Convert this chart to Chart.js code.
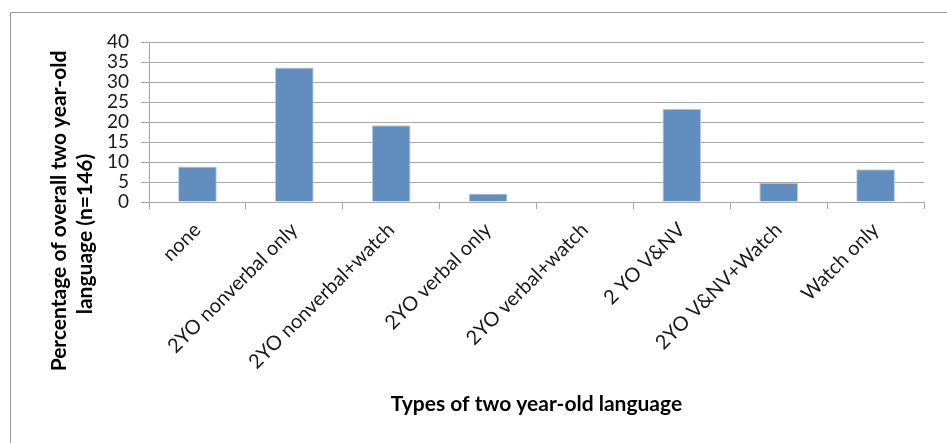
<!DOCTYPE html>
<html>
<head>
<meta charset="utf-8">
<script src="https://cdn.jsdelivr.net/npm/chart.js@4"></script>
<style>
  body { margin: 0; background: #fff; }
  #wrap { width: 947px; height: 443px; position: relative; }
</style>
</head>
<body>
<div id="wrap"><canvas id="langChart"></canvas></div>
<script>
// data (percent of n=146)
var categories = ["none", "2YO nonverbal only", "2YO nonverbal+watch", "2YO verbal only",
    "2YO verbal+watch", "2 YO V&NV", "2YO V&NV+Watch", "Watch only"];
var percentages = [8.9, 33.6, 19.2, 2.1, 0, 23.3, 4.8, 8.2];
var yTicks = [0, 5, 10, 15, 20, 25, 30, 35, 40];
var yTitleLines = ["Percentage of overall two year-old", "language (n=146)"];
var xTitle = "Types of two year-old language";

var gridGray = "#a6a6a6";
var font = "Lato";

// frame lines + two-line y title placed like the original
var decorations = {
    id: "decorations",
    afterDraw: function (chart) {
        var c = chart.ctx;
        c.save();
        c.strokeStyle = "#9a9a9a";
        c.lineWidth = 1;
        c.beginPath();
        c.moveTo(10.5, 443);
        c.lineTo(10.5, 12.5);
        c.lineTo(947, 12.5);
        c.stroke();
        c.restore();

        var spots = [[59, 211], [85, 234]];
        yTitleLines.forEach(function (line, i) {
            c.save();
            c.fillStyle = "#000";
            c.font = "bold 21px " + font;
            c.textAlign = "center";
            c.textBaseline = "middle";
            c.translate(spots[i][0], spots[i][1]);
            c.rotate(-Math.PI / 2);
            c.fillText(line, 0, 0);
            c.restore();
        });
    }
};

var ctx = document.getElementById("langChart").getContext("2d");
var langChart = new Chart(ctx, {
    type: "bar",
    data: {
        labels: categories,
        datasets: [{
            data: percentages,
            backgroundColor: "#5f8ebf",
            borderColor: "#b8cde6",
            borderWidth: 1,
            categoryPercentage: 1,
            barPercentage: 0.4
        }]
    },
    options: {
        responsive: true,
        maintainAspectRatio: false,
        animation: false,
        layout: { padding: { left: 100, right: 23, top: 42, bottom: 22 } },
        plugins: {
            legend: { display: false },
            tooltip: { enabled: false }
        },
        scales: {
            x: {
                grid: {
                    offset: true,
                    drawOnChartArea: false,
                    drawTicks: true,
                    tickLength: 7,
                    color: gridGray
                },
                border: { color: gridGray },
                ticks: {
                    autoSkip: false,
                    minRotation: 45,
                    maxRotation: 45,
                    padding: 9,
                    color: "#1a1a1a",
                    font: { family: font, size: 20 }
                },
                title: {
                    display: true,
                    text: xTitle,
                    color: "#000",
                    font: { family: font, size: 21, weight: "bold" },
                    padding: { top: 0, bottom: 4 }
                },
                afterFit: function (scale) { scale.height = 443 - 22 - 202; }
            },
            y: {
                min: 0,
                max: 40,
                afterBuildTicks: function (scale) {
                    scale.ticks = yTicks.map(function (v) { return { value: v }; });
                },
                grid: { color: gridGray, tickLength: 8 },
                border: { color: gridGray },
                ticks: {
                    autoSkip: false,
                    padding: 12,
                    color: "#1a1a1a",
                    font: { family: font, size: 19 }
                },
                afterFit: function (scale) { scale.width = 49; }
            }
        }
    },
    plugins: [decorations]
});
</script>
</body>
</html>
